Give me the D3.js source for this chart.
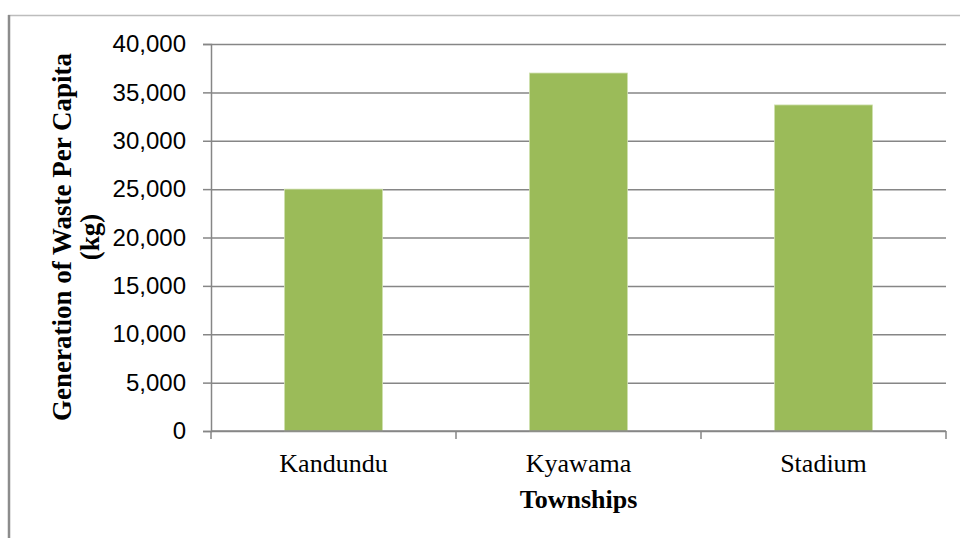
<!DOCTYPE html>
<html>
<head>
<meta charset="utf-8">
<script src="https://cdn.jsdelivr.net/npm/d3@7"></script>
<style>
  html, body { margin: 0; padding: 0; background: #fff; }
  svg { display: block; }
</style>
</head>
<body>
<svg id="chart" width="960" height="538"></svg>
<script>
// Waste generation per capita by township
const townships = ["Kandundu", "Kyawama", "Stadium"];
const wasteKg = [25000, 37000, 33700];
const yTicks = [0, 5000, 10000, 15000, 20000, 25000, 30000, 35000, 40000];

const svg = d3.select("#chart");
const W = 960, H = 538;
const plot = { left: 211, right: 946, top: 44, bottom: 431 };
const gridColor = "#868686";

// chart frame (partial border)
svg.append("line").attr("x1", 8).attr("x2", W).attr("y1", 15.5).attr("y2", 15.5)
  .attr("stroke", "#bdbdbd").attr("stroke-width", 1.5);
svg.append("line").attr("x1", 9).attr("x2", 9).attr("y1", 15).attr("y2", H)
  .attr("stroke", "#8c8c8c").attr("stroke-width", 2.5);

const y = d3.scaleLinear().domain([0, 40000]).range([plot.bottom, plot.top]);
const x = d3.scaleBand().domain(townships).range([plot.left, plot.right])
  .paddingInner(0.6).paddingOuter(0.3);

// horizontal gridlines + y ticks/labels
const yAxis = d3.axisLeft(y).tickValues(yTicks).tickSize(8).tickPadding(17)
  .tickFormat(d3.format(","));
const gy = svg.append("g").attr("transform", `translate(${plot.left},0)`).call(yAxis);
gy.select(".domain").attr("stroke", gridColor).attr("stroke-width", 1.5);
gy.selectAll(".tick line").attr("stroke", gridColor).attr("stroke-width", 1.5);
gy.selectAll(".tick text").attr("font-family", "'Liberation Sans', Arial, sans-serif")
  .attr("font-size", 24).attr("fill", "#000");
gy.selectAll(".tick").append("line")
  .attr("x1", 0).attr("x2", plot.right - plot.left)
  .attr("stroke", gridColor).attr("stroke-width", 1.5);

// bars
svg.append("g").selectAll("rect").data(townships).join("rect")
  .attr("x", d => x(d))
  .attr("width", x.bandwidth())
  .attr("y", (d, i) => y(wasteKg[i]))
  .attr("height", (d, i) => y(0) - y(wasteKg[i]))
  .attr("fill", "#9BBB59")
  .attr("stroke", "#cfe0ad").attr("stroke-width", 0.8);

// x axis with category boundary ticks
const xg = svg.append("g");
xg.append("line").attr("x1", plot.left).attr("x2", plot.right)
  .attr("y1", plot.bottom).attr("y2", plot.bottom)
  .attr("stroke", gridColor).attr("stroke-width", 1.5);
const bounds = [plot.left].concat(townships.map(d => x(d) + x.bandwidth() / 2 + x.step() / 2));
xg.selectAll(".bt").data(bounds).join("line").attr("class", "bt")
  .attr("x1", d => d).attr("x2", d => d)
  .attr("y1", plot.bottom).attr("y2", plot.bottom + 8)
  .attr("stroke", gridColor).attr("stroke-width", 1.5);
xg.selectAll(".cat").data(townships).join("text").attr("class", "cat")
  .attr("x", d => x(d) + x.bandwidth() / 2)
  .attr("y", 472)
  .attr("text-anchor", "middle")
  .attr("font-family", "'Liberation Serif', 'Times New Roman', serif")
  .attr("font-size", 26)
  .attr("fill", "#000")
  .text(d => d);

// axis titles
svg.append("text")
  .attr("x", (plot.left + plot.right) / 2).attr("y", 508)
  .attr("text-anchor", "middle")
  .attr("font-family", "'Liberation Serif', 'Times New Roman', serif")
  .attr("font-weight", "bold").attr("font-size", 26).attr("fill", "#000")
  .text("Townships");

const yt = svg.append("text")
  .attr("transform", "translate(71,237) rotate(-90)")
  .attr("text-anchor", "middle")
  .attr("font-family", "'Liberation Serif', 'Times New Roman', serif")
  .attr("font-weight", "bold").attr("font-size", 27).attr("fill", "#000");
yt.append("tspan").attr("x", 0).attr("y", 0).text("Generation of Waste Per Capita");
yt.append("tspan").attr("x", 0).attr("y", 28).text("(kg)");
</script>
</body>
</html>
